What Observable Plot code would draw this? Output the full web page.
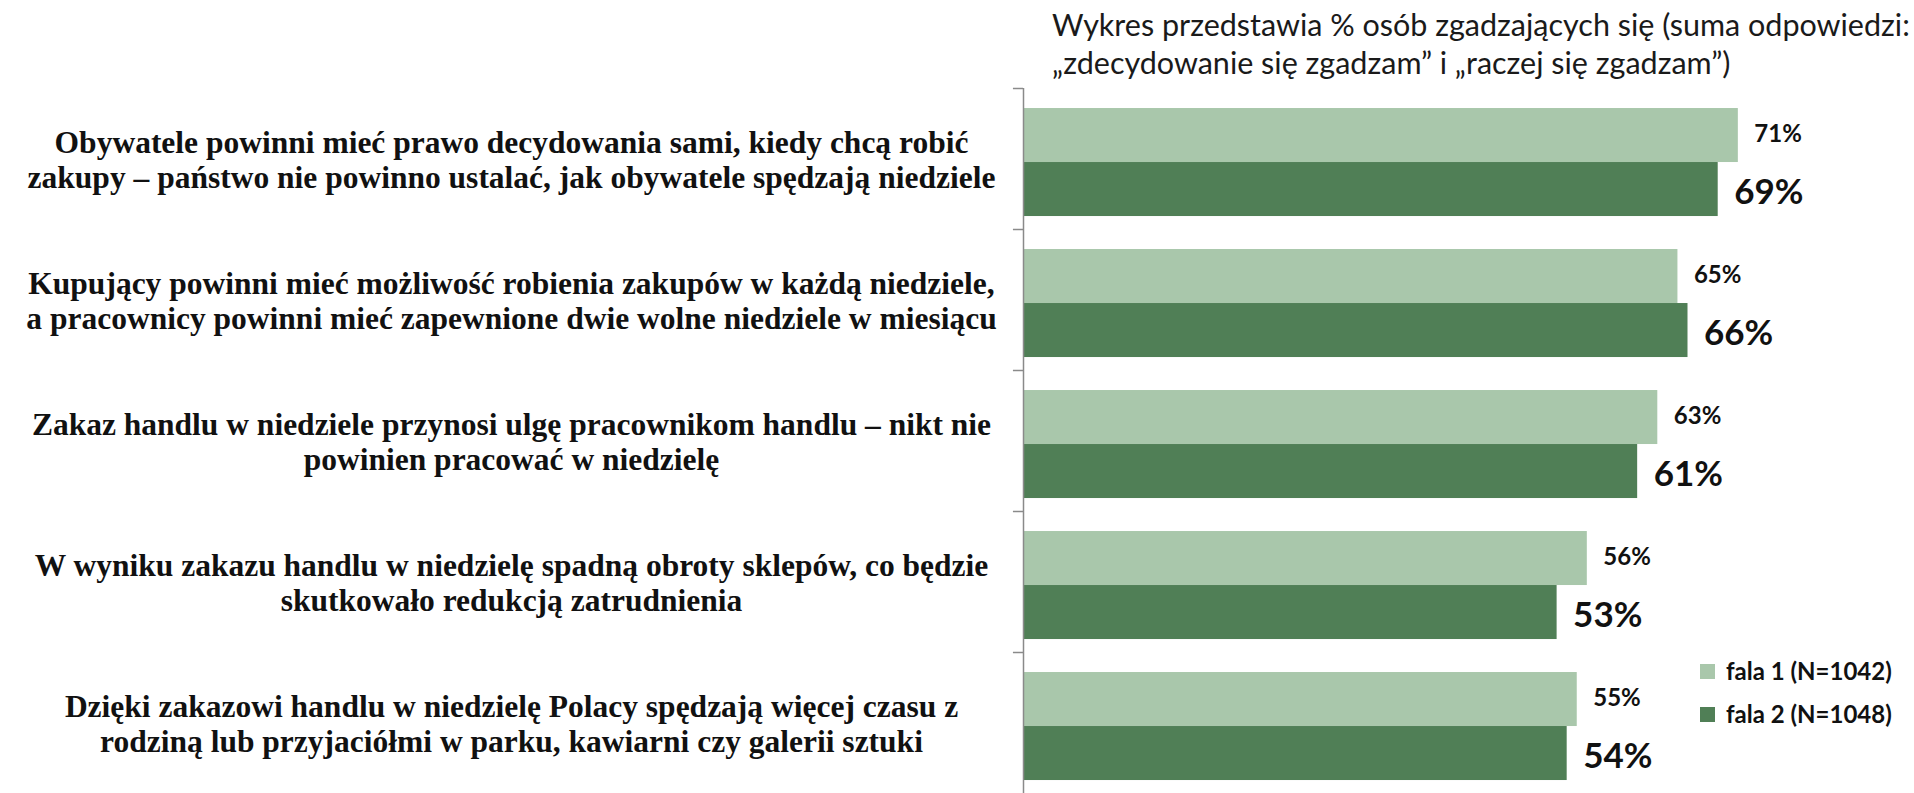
<!DOCTYPE html>
<html>
<head>
<meta charset="utf-8">
<script src="https://cdn.jsdelivr.net/npm/d3@7"></script>
<script src="https://cdn.jsdelivr.net/npm/@observablehq/plot@0.6"></script>
<style>
  html, body { margin: 0; padding: 0; background: #fff; }
  #wrap { position: relative; width: 1914px; height: 793px; overflow: hidden; }
  #title { position: absolute; left: 1052px; top: 5px; font-family: Lato, "Open Sans", sans-serif; font-size: 30.5px; line-height: 38px; color: #1a1a1a; white-space: nowrap; }
  #legend { position: absolute; left: 1700px; top: 657px; font-family: Lato, "Open Sans", sans-serif; font-weight: bold; font-size: 24px; line-height: 28px; color: #111; }
  #legend .item { display: flex; align-items: center; height: 28px; margin-bottom: 15px; white-space: nowrap; }
  #legend .sw { width: 15px; height: 15px; margin-right: 11px; }
</style>
</head>
<body>
<div id="wrap">
  <div id="title"></div>
  <div id="legend"></div>
</div>
<script>
const titleLines = [
  "Wykres przedstawia % osób zgadzających się (suma odpowiedzi:",
  "„zdecydowanie się zgadzam” i „raczej się zgadzam”)"
];
const questions = [
  "Obywatele powinni mieć prawo decydowania sami, kiedy chcą robić\nzakupy – państwo nie powinno ustalać, jak obywatele spędzają niedziele",
  "Kupujący powinni mieć możliwość robienia zakupów w każdą niedziele,\na pracownicy powinni mieć zapewnione dwie wolne niedziele w miesiącu",
  "Zakaz handlu w niedziele przynosi ulgę pracownikom handlu – nikt nie\npowinien pracować w niedzielę",
  "W wyniku zakazu handlu w niedzielę spadną obroty sklepów, co będzie\nskutkowało redukcją zatrudnienia",
  "Dzięki zakazowi handlu w niedzielę Polacy spędzają więcej czasu z\nrodziną lub przyjaciółmi w parku, kawiarni czy galerii sztuki"
];
const seriesNames = ["fala 1 (N=1042)", "fala 2 (N=1048)"];
const fala1 = [71, 65, 63, 56, 55];
const fala2 = [69, 66, 61, 53, 54];
const seriesColors = ["#a9c7ab", "#507f56"];

const d1 = questions.map((q, i) => ({q, value: fala1[i]}));
const d2 = questions.map((q, i) => ({q, value: fala2[i]}));

const H = 793, MT = 88;
const band = (H - MT) / questions.length;

document.getElementById("title").innerHTML = titleLines.join("<br>");
document.getElementById("legend").innerHTML = seriesNames.map((n, i) =>
  `<div class="item"><div class="sw" style="background:${seriesColors[i]}"></div><span>${n}</span></div>`).join("");

const chart = Plot.plot({
  width: 1914,
  height: H,
  marginLeft: 1023,
  marginRight: 5,
  marginTop: MT,
  marginBottom: 0,
  x: {domain: [0, 88], axis: null},
  y: {domain: questions, padding: 0, axis: null},
  style: {background: "transparent", overflow: "visible"},
  marks: [
    Plot.barX(d1, {x: "value", y: "q", fill: seriesColors[0], insetTop: band * 0.142, insetBottom: band * 0.475}),
    Plot.barX(d2, {x: "value", y: "q", fill: seriesColors[1], insetTop: band * 0.525, insetBottom: band * 0.092}),
    Plot.ruleX([0], {stroke: "#8a8a8a", strokeWidth: 1.5}),
    Plot.ruleY(questions, {y: d => d, x1: -1, x2: 0, dy: -band / 2, stroke: "#8a8a8a", strokeWidth: 1.5}),
    Plot.text(d1, {x: "value", y: "q", text: d => d.value + "%", dx: 16, dy: -band * 0.175, textAnchor: "start", lineAnchor: "middle",
      fontSize: 24, fontWeight: "bold", fontFamily: "Lato, sans-serif", fill: "#111"}),
    Plot.text(d2, {x: "value", y: "q", text: d => d.value + "%", dx: 16, dy: band * 0.24, textAnchor: "start", lineAnchor: "middle",
      fontSize: 35, fontWeight: "bold", fontFamily: "Lato, sans-serif", fill: "#111"}),
    Plot.text(questions, {y: d => d, text: d => d, frameAnchor: "left", dx: -512, textAnchor: "middle", lineAnchor: "middle",
      fontSize: 31.5, fontWeight: "bold", fontFamily: "Liberation Serif, serif", lineHeight: 1.12, fill: "#111"})
  ]
});
chart.style.position = "absolute";
chart.style.left = "0";
chart.style.top = "0";
document.getElementById("wrap").prepend(chart);
</script>
</body>
</html>
